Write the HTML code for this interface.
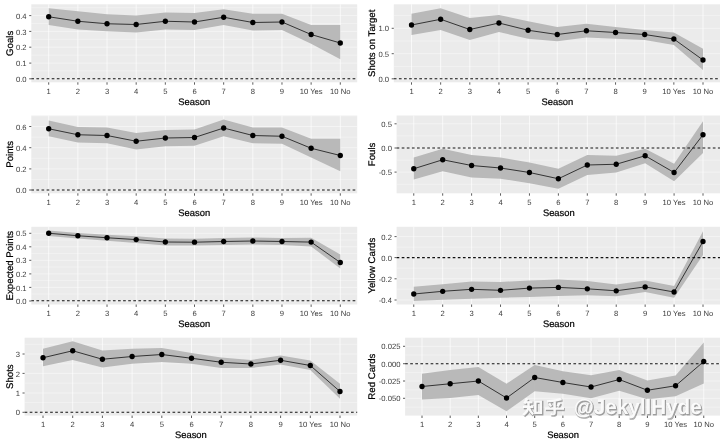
<!DOCTYPE html>
<html><head><meta charset="utf-8"><title>plots</title>
<style>html,body{margin:0;padding:0;background:#fff}body{width:720px;height:440px;overflow:hidden;font-family:"Liberation Sans",sans-serif}</style>
</head><body>
<svg width="720" height="440" viewBox="0 0 720 440" style="display:block;font-family:'Liberation Sans',sans-serif" text-rendering="geometricPrecision">
<defs><filter id="soft" x="-2%" y="-2%" width="104%" height="104%" color-interpolation-filters="sRGB"><feGaussianBlur stdDeviation="0.5"/></filter></defs>
<rect width="720" height="440" fill="#fff"/>
<g filter="url(#soft)">
<rect x="-20" y="-20" width="760" height="480" fill="#fff"/>
<g>
<rect x="31.3" y="4.3" width="325.9" height="78" fill="#EBEBEB"/>
<path d="M31.3 23.5H357.2M31.3 39.3H357.2M31.3 55.1H357.2M31.3 70.9H357.2M31.3 7.7H357.2" stroke="#fff" stroke-width="0.5" stroke-opacity="0.66" fill="none"/>
<path d="M31.3 15.6H357.2M31.3 31.4H357.2M31.3 47.2H357.2M31.3 63.1H357.2M31.3 78.8H357.2" stroke="#fff" stroke-width="0.65" stroke-opacity="0.72" fill="none"/>
<path d="M48.7 4.3V82.3M77.86 4.3V82.3M107.02 4.3V82.3M136.18 4.3V82.3M165.34 4.3V82.3M194.5 4.3V82.3M223.66 4.3V82.3M252.82 4.3V82.3M281.98 4.3V82.3M311.14 4.3V82.3M340.3 4.3V82.3" stroke="#fff" stroke-width="1.0" stroke-opacity="0.68" fill="none"/>
<polygon points="48.7,8.25 77.86,11.25 107.02,14.25 136.18,15.5 165.34,12.5 194.5,13 223.66,9.25 252.82,13.75 281.98,13.75 311.14,25 340.3,25 340.3,59.25 311.14,43.75 281.98,30 252.82,30.5 223.66,25 194.5,30 165.34,29.5 136.18,32.5 107.02,31.25 77.86,29.5 48.7,25" fill="#B3B3B3" fill-opacity="0.91"/>
<path d="M31.3 78.7H357.2" stroke="#111" stroke-width="1.05" stroke-dasharray="2.7 2.4" fill="none"/>
<polyline points="48.7,16.75 77.86,21.25 107.02,23.75 136.18,24.5 165.34,21.25 194.5,22 223.66,17.25 252.82,22.5 281.98,22 311.14,34.5 340.3,43" stroke="#111" stroke-width="0.8" fill="none"/>
<circle cx="48.7" cy="16.75" r="2.65" fill="#000"/>
<circle cx="77.86" cy="21.25" r="2.65" fill="#000"/>
<circle cx="107.02" cy="23.75" r="2.65" fill="#000"/>
<circle cx="136.18" cy="24.5" r="2.65" fill="#000"/>
<circle cx="165.34" cy="21.25" r="2.65" fill="#000"/>
<circle cx="194.5" cy="22" r="2.65" fill="#000"/>
<circle cx="223.66" cy="17.25" r="2.65" fill="#000"/>
<circle cx="252.82" cy="22.5" r="2.65" fill="#000"/>
<circle cx="281.98" cy="22" r="2.65" fill="#000"/>
<circle cx="311.14" cy="34.5" r="2.65" fill="#000"/>
<circle cx="340.3" cy="43" r="2.65" fill="#000"/>
<path d="M29.2 15.6H31.3M29.2 31.4H31.3M29.2 47.2H31.3M29.2 63.1H31.3M29.2 78.8H31.3M48.7 82.3v2.4M77.86 82.3v2.4M107.02 82.3v2.4M136.18 82.3v2.4M165.34 82.3v2.4M194.5 82.3v2.4M223.66 82.3v2.4M252.82 82.3v2.4M281.98 82.3v2.4M311.14 82.3v2.4M340.3 82.3v2.4" stroke="#333" stroke-width="0.8" fill="none"/>
<text x="26.6" y="18.75" font-size="7.65" fill="#3C3C3C" text-anchor="end">0.4</text>
<text x="26.6" y="34.55" font-size="7.65" fill="#3C3C3C" text-anchor="end">0.3</text>
<text x="26.6" y="50.35" font-size="7.65" fill="#3C3C3C" text-anchor="end">0.2</text>
<text x="26.6" y="66.25" font-size="7.65" fill="#3C3C3C" text-anchor="end">0.1</text>
<text x="26.6" y="81.95" font-size="7.65" fill="#3C3C3C" text-anchor="end">0.0</text>
<text x="48.7" y="94.1" font-size="7.65" fill="#3C3C3C" text-anchor="middle">1</text>
<text x="77.86" y="94.1" font-size="7.65" fill="#3C3C3C" text-anchor="middle">2</text>
<text x="107.02" y="94.1" font-size="7.65" fill="#3C3C3C" text-anchor="middle">3</text>
<text x="136.18" y="94.1" font-size="7.65" fill="#3C3C3C" text-anchor="middle">4</text>
<text x="165.34" y="94.1" font-size="7.65" fill="#3C3C3C" text-anchor="middle">5</text>
<text x="194.5" y="94.1" font-size="7.65" fill="#3C3C3C" text-anchor="middle">6</text>
<text x="223.66" y="94.1" font-size="7.65" fill="#3C3C3C" text-anchor="middle">7</text>
<text x="252.82" y="94.1" font-size="7.65" fill="#3C3C3C" text-anchor="middle">8</text>
<text x="281.98" y="94.1" font-size="7.65" fill="#3C3C3C" text-anchor="middle">9</text>
<text x="311.14" y="94.1" font-size="7.65" fill="#3C3C3C" text-anchor="middle">10 Yes</text>
<text x="340.3" y="94.1" font-size="7.65" fill="#3C3C3C" text-anchor="middle">10 No</text>
<text x="194.25" y="105" font-size="9.4" fill="#000" stroke="#000" stroke-width="0.22" text-anchor="middle">Season</text>
<text transform="translate(13.3 43.3) rotate(-90)" font-size="9.65" fill="#000" stroke="#000" stroke-width="0.22" text-anchor="middle">Goals</text>
</g>
<g>
<rect x="393.8" y="4.3" width="327.2" height="78" fill="#EBEBEB"/>
<path d="M393.8 41H721M393.8 66.4H721M393.8 15.6H721" stroke="#fff" stroke-width="0.5" stroke-opacity="0.66" fill="none"/>
<path d="M393.8 28.3H721M393.8 53.7H721M393.8 78.8H721" stroke="#fff" stroke-width="0.65" stroke-opacity="0.72" fill="none"/>
<path d="M411.5 4.3V82.3M440.65 4.3V82.3M469.8 4.3V82.3M498.95 4.3V82.3M528.1 4.3V82.3M557.25 4.3V82.3M586.4 4.3V82.3M615.55 4.3V82.3M644.7 4.3V82.3M673.85 4.3V82.3M703 4.3V82.3" stroke="#fff" stroke-width="1.0" stroke-opacity="0.68" fill="none"/>
<polygon points="411.5,13.75 440.65,8.25 469.8,18 498.95,15 528.1,21.25 557.25,27 586.4,23.75 615.55,27 644.7,30 673.85,32.5 703,48.75 703,70 673.85,45 644.7,40 615.55,38.75 586.4,37.5 557.25,41.25 528.1,38.75 498.95,32 469.8,40 440.65,30 411.5,35" fill="#B3B3B3" fill-opacity="0.91"/>
<path d="M393.8 78.7H721" stroke="#111" stroke-width="1.05" stroke-dasharray="2.7 2.4" fill="none"/>
<polyline points="411.5,25 440.65,19.25 469.8,29.5 498.95,23 528.1,30.25 557.25,34.5 586.4,30.75 615.55,32.5 644.7,34.5 673.85,39 703,60" stroke="#111" stroke-width="0.8" fill="none"/>
<circle cx="411.5" cy="25" r="2.65" fill="#000"/>
<circle cx="440.65" cy="19.25" r="2.65" fill="#000"/>
<circle cx="469.8" cy="29.5" r="2.65" fill="#000"/>
<circle cx="498.95" cy="23" r="2.65" fill="#000"/>
<circle cx="528.1" cy="30.25" r="2.65" fill="#000"/>
<circle cx="557.25" cy="34.5" r="2.65" fill="#000"/>
<circle cx="586.4" cy="30.75" r="2.65" fill="#000"/>
<circle cx="615.55" cy="32.5" r="2.65" fill="#000"/>
<circle cx="644.7" cy="34.5" r="2.65" fill="#000"/>
<circle cx="673.85" cy="39" r="2.65" fill="#000"/>
<circle cx="703" cy="60" r="2.65" fill="#000"/>
<path d="M391.7 28.3H393.8M391.7 53.7H393.8M391.7 78.8H393.8M411.5 82.3v2.4M440.65 82.3v2.4M469.8 82.3v2.4M498.95 82.3v2.4M528.1 82.3v2.4M557.25 82.3v2.4M586.4 82.3v2.4M615.55 82.3v2.4M644.7 82.3v2.4M673.85 82.3v2.4M703 82.3v2.4" stroke="#333" stroke-width="0.8" fill="none"/>
<text x="389.1" y="31.45" font-size="7.65" fill="#3C3C3C" text-anchor="end">1.0</text>
<text x="389.1" y="56.85" font-size="7.65" fill="#3C3C3C" text-anchor="end">0.5</text>
<text x="389.1" y="81.95" font-size="7.65" fill="#3C3C3C" text-anchor="end">0.0</text>
<text x="411.5" y="94.1" font-size="7.65" fill="#3C3C3C" text-anchor="middle">1</text>
<text x="440.65" y="94.1" font-size="7.65" fill="#3C3C3C" text-anchor="middle">2</text>
<text x="469.8" y="94.1" font-size="7.65" fill="#3C3C3C" text-anchor="middle">3</text>
<text x="498.95" y="94.1" font-size="7.65" fill="#3C3C3C" text-anchor="middle">4</text>
<text x="528.1" y="94.1" font-size="7.65" fill="#3C3C3C" text-anchor="middle">5</text>
<text x="557.25" y="94.1" font-size="7.65" fill="#3C3C3C" text-anchor="middle">6</text>
<text x="586.4" y="94.1" font-size="7.65" fill="#3C3C3C" text-anchor="middle">7</text>
<text x="615.55" y="94.1" font-size="7.65" fill="#3C3C3C" text-anchor="middle">8</text>
<text x="644.7" y="94.1" font-size="7.65" fill="#3C3C3C" text-anchor="middle">9</text>
<text x="673.85" y="94.1" font-size="7.65" fill="#3C3C3C" text-anchor="middle">10 Yes</text>
<text x="703" y="94.1" font-size="7.65" fill="#3C3C3C" text-anchor="middle">10 No</text>
<text x="557.4" y="105" font-size="9.4" fill="#000" stroke="#000" stroke-width="0.22" text-anchor="middle">Season</text>
<text transform="translate(375.1 43.3) rotate(-90)" font-size="9.65" fill="#000" stroke="#000" stroke-width="0.22" text-anchor="middle">Shots on Target</text>
</g>
<g>
<rect x="31.3" y="115.5" width="325.9" height="77.8" fill="#EBEBEB"/>
<path d="M31.3 137.1H357.2M31.3 158.3H357.2M31.3 179.5H357.2M31.3 115.9H357.2" stroke="#fff" stroke-width="0.5" stroke-opacity="0.66" fill="none"/>
<path d="M31.3 126.5H357.2M31.3 147.7H357.2M31.3 168.9H357.2M31.3 190H357.2" stroke="#fff" stroke-width="0.65" stroke-opacity="0.72" fill="none"/>
<path d="M48.7 115.5V193.3M77.86 115.5V193.3M107.02 115.5V193.3M136.18 115.5V193.3M165.34 115.5V193.3M194.5 115.5V193.3M223.66 115.5V193.3M252.82 115.5V193.3M281.98 115.5V193.3M311.14 115.5V193.3M340.3 115.5V193.3" stroke="#fff" stroke-width="1.0" stroke-opacity="0.68" fill="none"/>
<polygon points="48.7,120.5 77.86,127 107.02,127.5 136.18,133 165.34,130 194.5,129.5 223.66,119.5 252.82,127.5 281.98,127.5 311.14,138.75 340.3,138.75 340.3,171.25 311.14,157.5 281.98,143.75 252.82,143.25 223.66,136.25 194.5,145.75 165.34,146.25 136.18,149.5 107.02,143.25 77.86,142.5 48.7,136.25" fill="#B3B3B3" fill-opacity="0.91"/>
<path d="M31.3 190H357.2" stroke="#111" stroke-width="1.05" stroke-dasharray="2.7 2.4" fill="none"/>
<polyline points="48.7,128.75 77.86,134.75 107.02,135.5 136.18,141.25 165.34,138 194.5,137.5 223.66,128 252.82,135.5 281.98,136.25 311.14,148.25 340.3,155.5" stroke="#111" stroke-width="0.8" fill="none"/>
<circle cx="48.7" cy="128.75" r="2.65" fill="#000"/>
<circle cx="77.86" cy="134.75" r="2.65" fill="#000"/>
<circle cx="107.02" cy="135.5" r="2.65" fill="#000"/>
<circle cx="136.18" cy="141.25" r="2.65" fill="#000"/>
<circle cx="165.34" cy="138" r="2.65" fill="#000"/>
<circle cx="194.5" cy="137.5" r="2.65" fill="#000"/>
<circle cx="223.66" cy="128" r="2.65" fill="#000"/>
<circle cx="252.82" cy="135.5" r="2.65" fill="#000"/>
<circle cx="281.98" cy="136.25" r="2.65" fill="#000"/>
<circle cx="311.14" cy="148.25" r="2.65" fill="#000"/>
<circle cx="340.3" cy="155.5" r="2.65" fill="#000"/>
<path d="M29.2 126.5H31.3M29.2 147.7H31.3M29.2 168.9H31.3M29.2 190H31.3M48.7 193.3v2.4M77.86 193.3v2.4M107.02 193.3v2.4M136.18 193.3v2.4M165.34 193.3v2.4M194.5 193.3v2.4M223.66 193.3v2.4M252.82 193.3v2.4M281.98 193.3v2.4M311.14 193.3v2.4M340.3 193.3v2.4" stroke="#333" stroke-width="0.8" fill="none"/>
<text x="26.6" y="129.65" font-size="7.65" fill="#3C3C3C" text-anchor="end">0.6</text>
<text x="26.6" y="150.85" font-size="7.65" fill="#3C3C3C" text-anchor="end">0.4</text>
<text x="26.6" y="172.05" font-size="7.65" fill="#3C3C3C" text-anchor="end">0.2</text>
<text x="26.6" y="193.15" font-size="7.65" fill="#3C3C3C" text-anchor="end">0.0</text>
<text x="48.7" y="204.7" font-size="7.65" fill="#3C3C3C" text-anchor="middle">1</text>
<text x="77.86" y="204.7" font-size="7.65" fill="#3C3C3C" text-anchor="middle">2</text>
<text x="107.02" y="204.7" font-size="7.65" fill="#3C3C3C" text-anchor="middle">3</text>
<text x="136.18" y="204.7" font-size="7.65" fill="#3C3C3C" text-anchor="middle">4</text>
<text x="165.34" y="204.7" font-size="7.65" fill="#3C3C3C" text-anchor="middle">5</text>
<text x="194.5" y="204.7" font-size="7.65" fill="#3C3C3C" text-anchor="middle">6</text>
<text x="223.66" y="204.7" font-size="7.65" fill="#3C3C3C" text-anchor="middle">7</text>
<text x="252.82" y="204.7" font-size="7.65" fill="#3C3C3C" text-anchor="middle">8</text>
<text x="281.98" y="204.7" font-size="7.65" fill="#3C3C3C" text-anchor="middle">9</text>
<text x="311.14" y="204.7" font-size="7.65" fill="#3C3C3C" text-anchor="middle">10 Yes</text>
<text x="340.3" y="204.7" font-size="7.65" fill="#3C3C3C" text-anchor="middle">10 No</text>
<text x="194.25" y="215.7" font-size="9.4" fill="#000" stroke="#000" stroke-width="0.22" text-anchor="middle">Season</text>
<text transform="translate(13.3 154.4) rotate(-90)" font-size="9.65" fill="#000" stroke="#000" stroke-width="0.22" text-anchor="middle">Points</text>
</g>
<g>
<rect x="396.6" y="115.5" width="324.4" height="77.8" fill="#EBEBEB"/>
<path d="M396.6 135.9H721M396.6 160.1H721M396.6 184.3H721" stroke="#fff" stroke-width="0.5" stroke-opacity="0.66" fill="none"/>
<path d="M396.6 123.8H721M396.6 148H721M396.6 172.1H721" stroke="#fff" stroke-width="0.65" stroke-opacity="0.72" fill="none"/>
<path d="M413.75 115.5V193.3M442.68 115.5V193.3M471.6 115.5V193.3M500.52 115.5V193.3M529.45 115.5V193.3M558.38 115.5V193.3M587.3 115.5V193.3M616.23 115.5V193.3M645.15 115.5V193.3M674.08 115.5V193.3M703 115.5V193.3" stroke="#fff" stroke-width="1.0" stroke-opacity="0.68" fill="none"/>
<polygon points="413.75,157.5 442.68,148.75 471.6,155 500.52,157.5 529.45,162.5 558.38,168.75 587.3,155 616.23,155.75 645.15,148.75 674.08,163.75 703,121.25 703,153 674.08,181.25 645.15,163.25 616.23,172.5 587.3,175 558.38,188.75 529.45,183.25 500.52,178.75 471.6,177.6 442.68,171.25 413.75,179.6" fill="#B3B3B3" fill-opacity="0.91"/>
<path d="M396.6 148H721" stroke="#111" stroke-width="1.05" stroke-dasharray="2.7 2.4" fill="none"/>
<polyline points="413.75,168.75 442.68,159.75 471.6,165.5 500.52,168 529.45,172.5 558.38,178.75 587.3,165 616.23,164.25 645.15,155.75 674.08,172.5 703,134.75" stroke="#111" stroke-width="0.8" fill="none"/>
<circle cx="413.75" cy="168.75" r="2.65" fill="#000"/>
<circle cx="442.68" cy="159.75" r="2.65" fill="#000"/>
<circle cx="471.6" cy="165.5" r="2.65" fill="#000"/>
<circle cx="500.52" cy="168" r="2.65" fill="#000"/>
<circle cx="529.45" cy="172.5" r="2.65" fill="#000"/>
<circle cx="558.38" cy="178.75" r="2.65" fill="#000"/>
<circle cx="587.3" cy="165" r="2.65" fill="#000"/>
<circle cx="616.23" cy="164.25" r="2.65" fill="#000"/>
<circle cx="645.15" cy="155.75" r="2.65" fill="#000"/>
<circle cx="674.08" cy="172.5" r="2.65" fill="#000"/>
<circle cx="703" cy="134.75" r="2.65" fill="#000"/>
<path d="M394.5 123.8H396.6M394.5 148H396.6M394.5 172.1H396.6M413.75 193.3v2.4M442.68 193.3v2.4M471.6 193.3v2.4M500.52 193.3v2.4M529.45 193.3v2.4M558.38 193.3v2.4M587.3 193.3v2.4M616.23 193.3v2.4M645.15 193.3v2.4M674.08 193.3v2.4M703 193.3v2.4" stroke="#333" stroke-width="0.8" fill="none"/>
<text x="391.9" y="126.95" font-size="7.65" fill="#3C3C3C" text-anchor="end">0.5</text>
<text x="391.9" y="151.15" font-size="7.65" fill="#3C3C3C" text-anchor="end">0.0</text>
<text x="391.9" y="175.25" font-size="7.65" fill="#3C3C3C" text-anchor="end">-0.5</text>
<text x="413.75" y="204.7" font-size="7.65" fill="#3C3C3C" text-anchor="middle">1</text>
<text x="442.68" y="204.7" font-size="7.65" fill="#3C3C3C" text-anchor="middle">2</text>
<text x="471.6" y="204.7" font-size="7.65" fill="#3C3C3C" text-anchor="middle">3</text>
<text x="500.52" y="204.7" font-size="7.65" fill="#3C3C3C" text-anchor="middle">4</text>
<text x="529.45" y="204.7" font-size="7.65" fill="#3C3C3C" text-anchor="middle">5</text>
<text x="558.38" y="204.7" font-size="7.65" fill="#3C3C3C" text-anchor="middle">6</text>
<text x="587.3" y="204.7" font-size="7.65" fill="#3C3C3C" text-anchor="middle">7</text>
<text x="616.23" y="204.7" font-size="7.65" fill="#3C3C3C" text-anchor="middle">8</text>
<text x="645.15" y="204.7" font-size="7.65" fill="#3C3C3C" text-anchor="middle">9</text>
<text x="674.08" y="204.7" font-size="7.65" fill="#3C3C3C" text-anchor="middle">10 Yes</text>
<text x="703" y="204.7" font-size="7.65" fill="#3C3C3C" text-anchor="middle">10 No</text>
<text x="558.8" y="215.7" font-size="9.4" fill="#000" stroke="#000" stroke-width="0.22" text-anchor="middle">Season</text>
<text transform="translate(375.1 154.4) rotate(-90)" font-size="9.65" fill="#000" stroke="#000" stroke-width="0.22" text-anchor="middle">Fouls</text>
</g>
<g>
<rect x="31.3" y="226.8" width="325.9" height="77.7" fill="#EBEBEB"/>
<path d="M31.3 240.05H357.2M31.3 253.55H357.2M31.3 267.05H357.2M31.3 280.55H357.2M31.3 294.05H357.2" stroke="#fff" stroke-width="0.5" stroke-opacity="0.66" fill="none"/>
<path d="M31.3 233.3H357.2M31.3 246.8H357.2M31.3 260.3H357.2M31.3 273.9H357.2M31.3 287.4H357.2M31.3 301H357.2" stroke="#fff" stroke-width="0.65" stroke-opacity="0.72" fill="none"/>
<path d="M48.7 226.8V304.5M77.86 226.8V304.5M107.02 226.8V304.5M136.18 226.8V304.5M165.34 226.8V304.5M194.5 226.8V304.5M223.66 226.8V304.5M252.82 226.8V304.5M281.98 226.8V304.5M311.14 226.8V304.5M340.3 226.8V304.5" stroke="#fff" stroke-width="1.0" stroke-opacity="0.68" fill="none"/>
<polygon points="48.7,230.45 77.86,232.95 107.02,234.75 136.18,236.3 165.34,238.6 194.5,238.8 223.66,238.1 252.82,237.6 281.98,238 311.14,237.8 340.3,254.6 340.3,268.4 311.14,246.4 281.98,245 252.82,244.4 223.66,244.9 194.5,245.6 165.34,245.4 136.18,242.9 107.02,240.75 77.86,238.55 48.7,236.05" fill="#B3B3B3" fill-opacity="0.91"/>
<path d="M31.3 300.75H357.2" stroke="#111" stroke-width="1.05" stroke-dasharray="2.7 2.4" fill="none"/>
<polyline points="48.7,233.25 77.86,235.75 107.02,237.75 136.18,239.6 165.34,242 194.5,242.2 223.66,241.5 252.82,241 281.98,241.5 311.14,242.1 340.3,262.5" stroke="#111" stroke-width="0.8" fill="none"/>
<circle cx="48.7" cy="233.25" r="2.65" fill="#000"/>
<circle cx="77.86" cy="235.75" r="2.65" fill="#000"/>
<circle cx="107.02" cy="237.75" r="2.65" fill="#000"/>
<circle cx="136.18" cy="239.6" r="2.65" fill="#000"/>
<circle cx="165.34" cy="242" r="2.65" fill="#000"/>
<circle cx="194.5" cy="242.2" r="2.65" fill="#000"/>
<circle cx="223.66" cy="241.5" r="2.65" fill="#000"/>
<circle cx="252.82" cy="241" r="2.65" fill="#000"/>
<circle cx="281.98" cy="241.5" r="2.65" fill="#000"/>
<circle cx="311.14" cy="242.1" r="2.65" fill="#000"/>
<circle cx="340.3" cy="262.5" r="2.65" fill="#000"/>
<path d="M29.2 233.3H31.3M29.2 246.8H31.3M29.2 260.3H31.3M29.2 273.9H31.3M29.2 287.4H31.3M29.2 301H31.3M48.7 304.5v2.4M77.86 304.5v2.4M107.02 304.5v2.4M136.18 304.5v2.4M165.34 304.5v2.4M194.5 304.5v2.4M223.66 304.5v2.4M252.82 304.5v2.4M281.98 304.5v2.4M311.14 304.5v2.4M340.3 304.5v2.4" stroke="#333" stroke-width="0.8" fill="none"/>
<text x="26.6" y="236.45" font-size="7.65" fill="#3C3C3C" text-anchor="end">0.5</text>
<text x="26.6" y="249.95" font-size="7.65" fill="#3C3C3C" text-anchor="end">0.4</text>
<text x="26.6" y="263.45" font-size="7.65" fill="#3C3C3C" text-anchor="end">0.3</text>
<text x="26.6" y="277.05" font-size="7.65" fill="#3C3C3C" text-anchor="end">0.2</text>
<text x="26.6" y="290.55" font-size="7.65" fill="#3C3C3C" text-anchor="end">0.1</text>
<text x="26.6" y="304.15" font-size="7.65" fill="#3C3C3C" text-anchor="end">0.0</text>
<text x="48.7" y="316.1" font-size="7.65" fill="#3C3C3C" text-anchor="middle">1</text>
<text x="77.86" y="316.1" font-size="7.65" fill="#3C3C3C" text-anchor="middle">2</text>
<text x="107.02" y="316.1" font-size="7.65" fill="#3C3C3C" text-anchor="middle">3</text>
<text x="136.18" y="316.1" font-size="7.65" fill="#3C3C3C" text-anchor="middle">4</text>
<text x="165.34" y="316.1" font-size="7.65" fill="#3C3C3C" text-anchor="middle">5</text>
<text x="194.5" y="316.1" font-size="7.65" fill="#3C3C3C" text-anchor="middle">6</text>
<text x="223.66" y="316.1" font-size="7.65" fill="#3C3C3C" text-anchor="middle">7</text>
<text x="252.82" y="316.1" font-size="7.65" fill="#3C3C3C" text-anchor="middle">8</text>
<text x="281.98" y="316.1" font-size="7.65" fill="#3C3C3C" text-anchor="middle">9</text>
<text x="311.14" y="316.1" font-size="7.65" fill="#3C3C3C" text-anchor="middle">10 Yes</text>
<text x="340.3" y="316.1" font-size="7.65" fill="#3C3C3C" text-anchor="middle">10 No</text>
<text x="194.25" y="326.8" font-size="9.4" fill="#000" stroke="#000" stroke-width="0.22" text-anchor="middle">Season</text>
<text transform="translate(13.3 265.65) rotate(-90)" font-size="9.65" fill="#000" stroke="#000" stroke-width="0.22" text-anchor="middle">Expected Points</text>
</g>
<g>
<rect x="396.6" y="226.8" width="324.4" height="77.7" fill="#EBEBEB"/>
<path d="M396.6 247.1H721M396.6 268.1H721M396.6 289.1H721" stroke="#fff" stroke-width="0.5" stroke-opacity="0.66" fill="none"/>
<path d="M396.6 236.6H721M396.6 257.6H721M396.6 278.8H721M396.6 300H721" stroke="#fff" stroke-width="0.65" stroke-opacity="0.72" fill="none"/>
<path d="M413.75 226.8V304.5M442.68 226.8V304.5M471.6 226.8V304.5M500.52 226.8V304.5M529.45 226.8V304.5M558.38 226.8V304.5M587.3 226.8V304.5M616.23 226.8V304.5M645.15 226.8V304.5M674.08 226.8V304.5M703 226.8V304.5" stroke="#fff" stroke-width="1.0" stroke-opacity="0.68" fill="none"/>
<polygon points="413.75,286.8 442.68,284.2 471.6,281.6 500.52,282 529.45,280.4 558.38,279.4 587.3,281.1 616.23,284.4 645.15,280.6 674.08,285.9 703,231.25 703,255 674.08,297.8 645.15,292 616.23,296.2 587.3,295.2 558.38,296.1 529.45,296.9 500.52,297.7 471.6,298.7 442.68,299.8 413.75,301" fill="#B3B3B3" fill-opacity="0.91"/>
<path d="M396.6 257.6H721" stroke="#111" stroke-width="1.05" stroke-dasharray="2.7 2.4" fill="none"/>
<polyline points="413.75,294 442.68,291.3 471.6,289.3 500.52,290.3 529.45,288.1 558.38,287.4 587.3,288.8 616.23,290.8 645.15,286.9 674.08,292 703,241.5" stroke="#111" stroke-width="0.8" fill="none"/>
<circle cx="413.75" cy="294" r="2.65" fill="#000"/>
<circle cx="442.68" cy="291.3" r="2.65" fill="#000"/>
<circle cx="471.6" cy="289.3" r="2.65" fill="#000"/>
<circle cx="500.52" cy="290.3" r="2.65" fill="#000"/>
<circle cx="529.45" cy="288.1" r="2.65" fill="#000"/>
<circle cx="558.38" cy="287.4" r="2.65" fill="#000"/>
<circle cx="587.3" cy="288.8" r="2.65" fill="#000"/>
<circle cx="616.23" cy="290.8" r="2.65" fill="#000"/>
<circle cx="645.15" cy="286.9" r="2.65" fill="#000"/>
<circle cx="674.08" cy="292" r="2.65" fill="#000"/>
<circle cx="703" cy="241.5" r="2.65" fill="#000"/>
<path d="M394.5 236.6H396.6M394.5 257.6H396.6M394.5 278.8H396.6M394.5 300H396.6M413.75 304.5v2.4M442.68 304.5v2.4M471.6 304.5v2.4M500.52 304.5v2.4M529.45 304.5v2.4M558.38 304.5v2.4M587.3 304.5v2.4M616.23 304.5v2.4M645.15 304.5v2.4M674.08 304.5v2.4M703 304.5v2.4" stroke="#333" stroke-width="0.8" fill="none"/>
<text x="391.9" y="239.75" font-size="7.65" fill="#3C3C3C" text-anchor="end">0.2</text>
<text x="391.9" y="260.75" font-size="7.65" fill="#3C3C3C" text-anchor="end">0.0</text>
<text x="391.9" y="281.95" font-size="7.65" fill="#3C3C3C" text-anchor="end">-0.2</text>
<text x="391.9" y="303.15" font-size="7.65" fill="#3C3C3C" text-anchor="end">-0.4</text>
<text x="413.75" y="316.1" font-size="7.65" fill="#3C3C3C" text-anchor="middle">1</text>
<text x="442.68" y="316.1" font-size="7.65" fill="#3C3C3C" text-anchor="middle">2</text>
<text x="471.6" y="316.1" font-size="7.65" fill="#3C3C3C" text-anchor="middle">3</text>
<text x="500.52" y="316.1" font-size="7.65" fill="#3C3C3C" text-anchor="middle">4</text>
<text x="529.45" y="316.1" font-size="7.65" fill="#3C3C3C" text-anchor="middle">5</text>
<text x="558.38" y="316.1" font-size="7.65" fill="#3C3C3C" text-anchor="middle">6</text>
<text x="587.3" y="316.1" font-size="7.65" fill="#3C3C3C" text-anchor="middle">7</text>
<text x="616.23" y="316.1" font-size="7.65" fill="#3C3C3C" text-anchor="middle">8</text>
<text x="645.15" y="316.1" font-size="7.65" fill="#3C3C3C" text-anchor="middle">9</text>
<text x="674.08" y="316.1" font-size="7.65" fill="#3C3C3C" text-anchor="middle">10 Yes</text>
<text x="703" y="316.1" font-size="7.65" fill="#3C3C3C" text-anchor="middle">10 No</text>
<text x="558.8" y="326.8" font-size="9.4" fill="#000" stroke="#000" stroke-width="0.22" text-anchor="middle">Season</text>
<text transform="translate(375.1 265.65) rotate(-90)" font-size="9.65" fill="#000" stroke="#000" stroke-width="0.22" text-anchor="middle">Yellow Cards</text>
</g>
<g>
<rect x="24.6" y="337.7" width="332.6" height="77.9" fill="#EBEBEB"/>
<path d="M24.6 363.7H357.2M24.6 383.1H357.2M24.6 402.5H357.2M24.6 344.3H357.2" stroke="#fff" stroke-width="0.5" stroke-opacity="0.66" fill="none"/>
<path d="M24.6 354H357.2M24.6 373.4H357.2M24.6 393H357.2M24.6 412.3H357.2" stroke="#fff" stroke-width="0.65" stroke-opacity="0.72" fill="none"/>
<path d="M43 337.7V415.6M72.7 337.7V415.6M102.4 337.7V415.6M132.1 337.7V415.6M161.8 337.7V415.6M191.5 337.7V415.6M221.2 337.7V415.6M250.9 337.7V415.6M280.6 337.7V415.6M310.3 337.7V415.6M340 337.7V415.6" stroke="#fff" stroke-width="1.0" stroke-opacity="0.68" fill="none"/>
<polygon points="43,348.75 72.7,341.25 102.4,350.5 132.1,348.75 161.8,348 191.5,353 221.2,357.5 250.9,360 280.6,355.5 310.3,360.5 340,383.75 340,398.75 310.3,370 280.6,364.5 250.9,368 221.2,368 191.5,363.75 161.8,362 132.1,363.75 102.4,367.5 72.7,360 43,366.25" fill="#B3B3B3" fill-opacity="0.91"/>
<path d="M24.6 412.2H357.2" stroke="#111" stroke-width="1.05" stroke-dasharray="2.7 2.4" fill="none"/>
<polyline points="43,357.75 72.7,350.75 102.4,359.25 132.1,356.5 161.8,354.5 191.5,358.25 221.2,362.25 250.9,364 280.6,360.25 310.3,365.5 340,391.5" stroke="#111" stroke-width="0.8" fill="none"/>
<circle cx="43" cy="357.75" r="2.65" fill="#000"/>
<circle cx="72.7" cy="350.75" r="2.65" fill="#000"/>
<circle cx="102.4" cy="359.25" r="2.65" fill="#000"/>
<circle cx="132.1" cy="356.5" r="2.65" fill="#000"/>
<circle cx="161.8" cy="354.5" r="2.65" fill="#000"/>
<circle cx="191.5" cy="358.25" r="2.65" fill="#000"/>
<circle cx="221.2" cy="362.25" r="2.65" fill="#000"/>
<circle cx="250.9" cy="364" r="2.65" fill="#000"/>
<circle cx="280.6" cy="360.25" r="2.65" fill="#000"/>
<circle cx="310.3" cy="365.5" r="2.65" fill="#000"/>
<circle cx="340" cy="391.5" r="2.65" fill="#000"/>
<path d="M22.5 354H24.6M22.5 373.4H24.6M22.5 393H24.6M22.5 412.3H24.6M43 415.6v2.4M72.7 415.6v2.4M102.4 415.6v2.4M132.1 415.6v2.4M161.8 415.6v2.4M191.5 415.6v2.4M221.2 415.6v2.4M250.9 415.6v2.4M280.6 415.6v2.4M310.3 415.6v2.4M340 415.6v2.4" stroke="#333" stroke-width="0.8" fill="none"/>
<text x="19.9" y="357.15" font-size="7.65" fill="#3C3C3C" text-anchor="end">3</text>
<text x="19.9" y="376.55" font-size="7.65" fill="#3C3C3C" text-anchor="end">2</text>
<text x="19.9" y="396.15" font-size="7.65" fill="#3C3C3C" text-anchor="end">1</text>
<text x="19.9" y="415.45" font-size="7.65" fill="#3C3C3C" text-anchor="end">0</text>
<text x="43" y="427.3" font-size="7.65" fill="#3C3C3C" text-anchor="middle">1</text>
<text x="72.7" y="427.3" font-size="7.65" fill="#3C3C3C" text-anchor="middle">2</text>
<text x="102.4" y="427.3" font-size="7.65" fill="#3C3C3C" text-anchor="middle">3</text>
<text x="132.1" y="427.3" font-size="7.65" fill="#3C3C3C" text-anchor="middle">4</text>
<text x="161.8" y="427.3" font-size="7.65" fill="#3C3C3C" text-anchor="middle">5</text>
<text x="191.5" y="427.3" font-size="7.65" fill="#3C3C3C" text-anchor="middle">6</text>
<text x="221.2" y="427.3" font-size="7.65" fill="#3C3C3C" text-anchor="middle">7</text>
<text x="250.9" y="427.3" font-size="7.65" fill="#3C3C3C" text-anchor="middle">8</text>
<text x="280.6" y="427.3" font-size="7.65" fill="#3C3C3C" text-anchor="middle">9</text>
<text x="310.3" y="427.3" font-size="7.65" fill="#3C3C3C" text-anchor="middle">10 Yes</text>
<text x="340" y="427.3" font-size="7.65" fill="#3C3C3C" text-anchor="middle">10 No</text>
<text x="190.9" y="437.9" font-size="9.4" fill="#000" stroke="#000" stroke-width="0.22" text-anchor="middle">Season</text>
<text transform="translate(13.3 376.65) rotate(-90)" font-size="9.65" fill="#000" stroke="#000" stroke-width="0.22" text-anchor="middle">Shots</text>
</g>
<g>
<rect x="405.1" y="337.7" width="315.9" height="77.9" fill="#EBEBEB"/>
<path d="M405.1 355H721M405.1 372.4H721M405.1 389.8H721M405.1 407.2H721" stroke="#fff" stroke-width="0.5" stroke-opacity="0.66" fill="none"/>
<path d="M405.1 346.3H721M405.1 363.7H721M405.1 381H721M405.1 398.3H721" stroke="#fff" stroke-width="0.65" stroke-opacity="0.72" fill="none"/>
<path d="M422 337.7V415.6M450.18 337.7V415.6M478.35 337.7V415.6M506.52 337.7V415.6M534.7 337.7V415.6M562.88 337.7V415.6M591.05 337.7V415.6M619.23 337.7V415.6M647.4 337.7V415.6M675.58 337.7V415.6M703.75 337.7V415.6" stroke="#fff" stroke-width="1.0" stroke-opacity="0.68" fill="none"/>
<polygon points="422,373.75 450.18,370 478.35,367 506.52,383.75 534.7,365 562.88,371.25 591.05,375.3 619.23,370 647.4,380.6 675.58,375.4 703.75,342.5 703.75,383.6 675.58,396.3 647.4,399.2 619.23,390.8 591.05,398.2 562.88,393.75 534.7,391.25 506.52,411.25 478.35,395 450.18,398 422,399.5" fill="#B3B3B3" fill-opacity="0.91"/>
<path d="M405.1 363.7H721" stroke="#111" stroke-width="1.05" stroke-dasharray="2.7 2.4" fill="none"/>
<polyline points="422,386.5 450.18,383.75 478.35,381 506.52,398 534.7,377.5 562.88,382.5 591.05,387 619.23,379.5 647.4,390.25 675.58,385.75 703.75,361.5" stroke="#111" stroke-width="0.8" fill="none"/>
<circle cx="422" cy="386.5" r="2.65" fill="#000"/>
<circle cx="450.18" cy="383.75" r="2.65" fill="#000"/>
<circle cx="478.35" cy="381" r="2.65" fill="#000"/>
<circle cx="506.52" cy="398" r="2.65" fill="#000"/>
<circle cx="534.7" cy="377.5" r="2.65" fill="#000"/>
<circle cx="562.88" cy="382.5" r="2.65" fill="#000"/>
<circle cx="591.05" cy="387" r="2.65" fill="#000"/>
<circle cx="619.23" cy="379.5" r="2.65" fill="#000"/>
<circle cx="647.4" cy="390.25" r="2.65" fill="#000"/>
<circle cx="675.58" cy="385.75" r="2.65" fill="#000"/>
<circle cx="703.75" cy="361.5" r="2.65" fill="#000"/>
<path d="M403 346.3H405.1M403 363.7H405.1M403 381H405.1M403 398.3H405.1M422 415.6v2.4M450.18 415.6v2.4M478.35 415.6v2.4M506.52 415.6v2.4M534.7 415.6v2.4M562.88 415.6v2.4M591.05 415.6v2.4M619.23 415.6v2.4M647.4 415.6v2.4M675.58 415.6v2.4M703.75 415.6v2.4" stroke="#333" stroke-width="0.8" fill="none"/>
<text x="400.4" y="349.45" font-size="7.65" fill="#3C3C3C" text-anchor="end">0.025</text>
<text x="400.4" y="366.85" font-size="7.65" fill="#3C3C3C" text-anchor="end">0.000</text>
<text x="400.4" y="384.15" font-size="7.65" fill="#3C3C3C" text-anchor="end">-0.025</text>
<text x="400.4" y="401.45" font-size="7.65" fill="#3C3C3C" text-anchor="end">-0.050</text>
<text x="422" y="427.3" font-size="7.65" fill="#3C3C3C" text-anchor="middle">1</text>
<text x="450.18" y="427.3" font-size="7.65" fill="#3C3C3C" text-anchor="middle">2</text>
<text x="478.35" y="427.3" font-size="7.65" fill="#3C3C3C" text-anchor="middle">3</text>
<text x="506.52" y="427.3" font-size="7.65" fill="#3C3C3C" text-anchor="middle">4</text>
<text x="534.7" y="427.3" font-size="7.65" fill="#3C3C3C" text-anchor="middle">5</text>
<text x="562.88" y="427.3" font-size="7.65" fill="#3C3C3C" text-anchor="middle">6</text>
<text x="591.05" y="427.3" font-size="7.65" fill="#3C3C3C" text-anchor="middle">7</text>
<text x="619.23" y="427.3" font-size="7.65" fill="#3C3C3C" text-anchor="middle">8</text>
<text x="647.4" y="427.3" font-size="7.65" fill="#3C3C3C" text-anchor="middle">9</text>
<text x="675.58" y="427.3" font-size="7.65" fill="#3C3C3C" text-anchor="middle">10 Yes</text>
<text x="703.75" y="427.3" font-size="7.65" fill="#3C3C3C" text-anchor="middle">10 No</text>
<text x="563.05" y="437.9" font-size="9.4" fill="#000" stroke="#000" stroke-width="0.22" text-anchor="middle">Season</text>
<text transform="translate(375.1 376.65) rotate(-90)" font-size="9.65" fill="#000" stroke="#000" stroke-width="0.22" text-anchor="middle">Red Cards</text>
</g>
<g opacity="0.33" transform="translate(0.8 0.9)"><g transform="translate(522.4 398.0) scale(0.196 0.178)" fill="none" stroke-width="18" stroke-linecap="butt" stroke-linejoin="miter" stroke="#000"><path d="M24 4 L10 32"/><path d="M16 24 H52"/><path d="M3 50 H56"/><path d="M31 24 V50 Q29 76 4 96"/><path d="M33 56 Q42 80 55 92"/><path d="M66 20 H94 V84 H66 Z"/></g><g transform="translate(544.8 398.0) scale(0.196 0.178)" fill="none" stroke-width="18" stroke-linecap="butt" stroke-linejoin="miter" stroke="#000"><path d="M86 6 Q50 16 12 19"/><path d="M22 29 L32 48"/><path d="M76 27 L65 48"/><path d="M2 60 H98"/><path d="M50 18 V86 Q50 94 30 90"/></g><text x="573.7" y="413.7" font-size="21" font-weight="bold" textLength="128" lengthAdjust="spacingAndGlyphs" fill="#000" stroke="#000" stroke-width="1.0">@JekyllHyde</text></g><g opacity="0.95"><g transform="translate(522.4 398.0) scale(0.196 0.178)" fill="none" stroke-width="12.5" stroke-linecap="butt" stroke-linejoin="miter" stroke="#fff"><path d="M24 4 L10 32"/><path d="M16 24 H52"/><path d="M3 50 H56"/><path d="M31 24 V50 Q29 76 4 96"/><path d="M33 56 Q42 80 55 92"/><path d="M66 20 H94 V84 H66 Z"/></g><g transform="translate(544.8 398.0) scale(0.196 0.178)" fill="none" stroke-width="12.5" stroke-linecap="butt" stroke-linejoin="miter" stroke="#fff"><path d="M86 6 Q50 16 12 19"/><path d="M22 29 L32 48"/><path d="M76 27 L65 48"/><path d="M2 60 H98"/><path d="M50 18 V86 Q50 94 30 90"/></g><text x="573.7" y="413.7" font-size="21" font-weight="bold" textLength="128" lengthAdjust="spacingAndGlyphs" fill="#fff">@JekyllHyde</text></g>
</g>
</svg>
</body></html>
